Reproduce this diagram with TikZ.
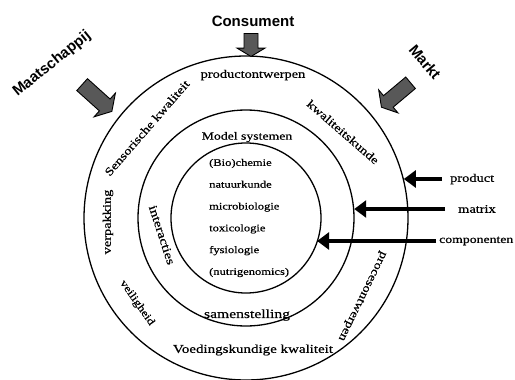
\documentclass[tikz,border=0pt]{standalone}
\usepackage{fontspec}
\setmainfont{Liberation Serif}[FakeStretch=1.25,FakeBold=0.6]
\newfontfamily\kopfont{Liberation Sans}
\usetikzlibrary{arrows.meta}
\definecolor{blokgrijs}{RGB}{88,88,88}
% dikke blokpijl: #1 plaats, #2 hoek, #3 lengte, #4 halve breedte van de kop
\newcommand\blokpijl[4]{%
  \draw[blok,shift={#1},rotate=#2] (-#3/2,-#4/2) -- (#3/2-#4*0.6,-#4/2) -- (#3/2-#4*0.6,-#4)
    -- (#3/2,0) -- (#3/2-#4*0.6,#4) -- (#3/2-#4*0.6,#4/2) -- (-#3/2,#4/2) -- cycle;}

\begin{document}
\begin{tikzpicture}[x=1pt,y=-1pt,
          ring/.style={draw,circle,line width=1.3pt,inner sep=0pt},
          kop/.style={font=\kopfont\bfseries\fontsize{15}{15}\selectfont,inner sep=0pt},
          lbl/.style={font=\fontsize{11.5}{11.5}\selectfont,inner sep=0pt},
          blok/.style={draw,line width=0.9pt,fill=blokgrijs,line join=miter},
          pijl/.style={-{Triangle[length=12pt,width=17pt]},line width=4pt}]
        \useasboundingbox (0,0) rectangle (515,380);
        % drie ringen
        \node[ring,minimum size=324pt] (outer) at (246,218) {};
        \node[ring,minimum size=216pt] (middle) at (246,218) {};
        \node[ring,minimum size=150pt] (inner) at (246,218) {};
        % invloeden van buiten
        \node[kop] (cons) at (253,21) {Consument};
        \node[kop,rotate=39] (maat) at (52,64) {Maatschappij};
        \node[kop,rotate=-50] (markt) at (425,62) {Markt};
        \blokpijl{(251,45)}{-90}{23}{14}
        \blokpijl{(97,98)}{-42}{40}{16}
        \blokpijl{(396,95)}{-140}{38}{15}
        % buitenste ring
        \node[lbl] (ontw) at (253,75) {productontwerpen};
        \node[lbl,rotate=-41] (kwal) at (343,132) {kwaliteitskunde};
        \node[lbl,rotate=49] (sens) at (147,128) {Sensorische kwaliteit};
        \node[lbl,rotate=90] (verp) at (108,222) {verpakking};
        \node[lbl,rotate=-55,font=\fontsize{10.5}{10.5}\selectfont] (veil) at (137,303) {veiligheid};
        \node[lbl,font=\fontsize{12}{12}\selectfont] (voed) at (253,350) {Voedingskundige kwaliteit};
        \node[lbl,rotate=-116] (proc) at (362,296) {procesontwerpen};
        % middelste ring
        \node[lbl,font=\fontsize{11}{11}\selectfont] (model) at (247,137) {Model systemen};
        \node[lbl,rotate=-72,font=\fontsize{12}{12}\selectfont] (inter) at (162,235) {interacties};
        \node[lbl,font=\fontsize{12.5}{12.5}\selectfont] (samen) at (247,315) {samenstelling};
        % binnenste cirkel
        \node[lbl,anchor=west,align=left,font=\fontsize{10}{21.8}\selectfont] (vakken) at (209,218)
          {(Bio)chemie\\natuurkunde\\microbiologie\\toxicologie\\fysiologie\\(nutrigenomics)};
        % niveaus
        \node[lbl,anchor=west] (prod) at (450,179) {product};
        \node[lbl,anchor=west] (matr) at (458,209) {matrix};
        \node[lbl,anchor=west,font=\fontsize{11}{11}\selectfont] (comp) at (439,241) {componenten};
        \draw[pijl] ([xshift=-8pt]prod.west) -- (prod.west -| outer.14);
        \draw[pijl] ([xshift=-13pt]matr.west) -- (matr.west -| middle.5);
        \draw[pijl] ([xshift=-3pt]comp.west) -- (comp.west -| inner.340);
      \end{tikzpicture}
\end{document}
